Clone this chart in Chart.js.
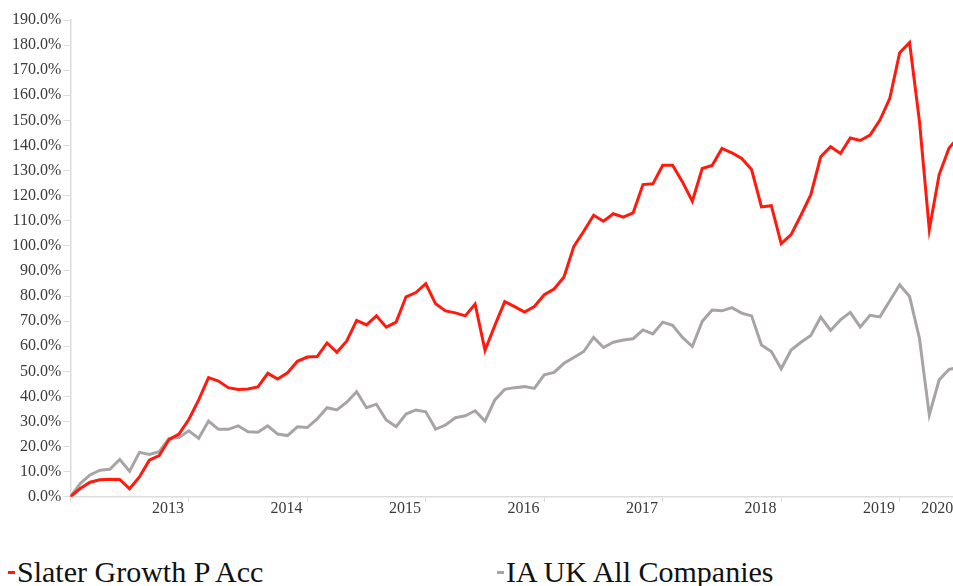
<!DOCTYPE html>
<html>
<head>
<meta charset="utf-8">
<script src="https://cdn.jsdelivr.net/npm/chart.js@4"></script>
<style>
  body { margin: 0; background: #fff; width: 953px; height: 586px; overflow: hidden; position: relative; font-family: 'Liberation Serif', serif; }
  #wrap { position: absolute; left: 0; top: 0; width: 953px; height: 515px; }
  #legend { position: absolute; left: 0; top: 557px; width: 953px; font-size: 30px; line-height: 1; color: #111; white-space: nowrap; }
  #legend .item { position: absolute; top: 0; padding-left: 9px; }
  #legend .item i { position: absolute; left: 0; top: 14px; width: 7px; height: 3px; }
</style>
</head>
<body>
<div id="wrap"><canvas id="perfChart"></canvas></div>
<div id="legend"></div>
<script>
// year labels on the x axis (one tick at the start of each year, monthly data from index 0)
const years = ['2013', '2014', '2015', '2016', '2017', '2018', '2019', '2020'];

// cumulative performance, % (monthly)
const slaterGrowth = [
  0, 3.3, 5.8, 6.8, 7.0, 6.9, 3.2, 7.9, 14.6, 16.4, 22.8, 25.0,
  30.8, 38.6, 47.5, 46.1, 43.5, 42.8, 43.0, 43.8, 49.2, 46.9, 49.4, 54.0,
  55.7, 55.9, 61.3, 57.6, 62.1, 70.3, 68.5, 72.1, 67.6, 69.6, 79.7, 81.4,
  84.9, 76.9, 74.1, 73.3, 72.1, 76.8, 58.4, 68.3, 77.8, 75.8, 73.6, 75.8,
  80.5, 82.8, 87.6, 99.8, 105.8, 112.2, 109.8, 112.8, 111.4, 113.1, 124.4, 124.7,
  132.1, 132.1, 125.5, 117.8, 130.8, 132.0, 138.8, 137.1, 134.8, 130.4, 115.5, 116.0,
  100.9, 104.5, 112.2, 120.4, 135.5, 139.5, 136.8, 143.0, 142.0, 144.1, 150.1, 158.8,
  177.0, 181.0, 149.7, 106.5, 128.4, 139.0, 143.5
];
const iaUkAll = [
  0, 5.3, 8.7, 10.6, 11.0, 14.9, 10.2, 17.7, 16.9, 18.0, 23.3, 23.6,
  26.3, 23.3, 30.2, 26.9, 26.9, 28.3, 25.9, 25.7, 28.3, 25.0, 24.4, 27.9,
  27.6, 31.0, 35.5, 34.6, 37.7, 41.9, 35.5, 36.9, 30.6, 27.9, 33.0, 34.6,
  33.9, 27.0, 28.6, 31.5, 32.3, 34.3, 30.2, 38.6, 42.8, 43.5, 43.9, 43.2,
  48.6, 49.6, 53.2, 55.5, 57.9, 63.5, 59.5, 61.6, 62.5, 63.0, 66.5, 64.9,
  69.6, 68.3, 63.5, 59.9, 69.9, 74.4, 74.1, 75.4, 73.2, 72.1, 60.5, 57.9,
  51.0, 58.5, 61.6, 64.3, 71.6, 66.3, 70.5, 73.5, 67.7, 72.3, 71.7, 78.1,
  84.5, 79.8, 63.2, 32.6, 46.6, 50.8, 51.5
];

const seriesNames = ['Slater Growth P Acc', 'IA UK All Companies'];
const seriesColors = ['#ff1a0d', '#a9a4a4'];

const xMax = 89.4;
const axisGrey = '#dcdcdc';
const tickText = '#3a3a3a';
const serif = "'Liberation Serif', 'Times New Roman', serif";

const toPoints = arr => arr.map((v, i) => ({ x: i, y: v }));

const ctx = document.getElementById('perfChart').getContext('2d');
new Chart(ctx, {
  type: 'line',
  data: {
    datasets: [
      { label: seriesNames[0], data: toPoints(slaterGrowth), borderColor: seriesColors[0], backgroundColor: seriesColors[0], borderWidth: 3, pointRadius: 0, tension: 0 },
      { label: seriesNames[1], data: toPoints(iaUkAll), borderColor: seriesColors[1], backgroundColor: seriesColors[1], borderWidth: 3, pointRadius: 0, tension: 0 }
    ]
  },
  options: {
    responsive: true,
    maintainAspectRatio: false,
    animation: false,
    layout: { padding: { left: 10, top: 20, right: 0, bottom: 0 } },
    plugins: { legend: { display: false }, tooltip: { enabled: false } },
    scales: {
      x: {
        type: 'linear', position: 'bottom', min: 0, max: xMax,
        afterBuildTicks: axis => {
          axis.ticks = [0].concat(years.map((y, i) => (i + 1) * 12)).filter(v => v <= xMax).map(v => ({ value: v }));
        },
        ticks: { display: false },
        grid: { drawOnChartArea: false, drawTicks: true, tickLength: 5, color: axisGrey },
        border: { color: axisGrey, width: 1.5 }
      },
      x2: {
        type: 'linear', position: 'bottom', weight: 1, min: 0, max: xMax,
        afterBuildTicks: axis => {
          axis.ticks = years.map((y, i) => ({ value: Math.min((i + 1) * 12 - 2.1, xMax - 1.6) }));
        },
        ticks: {
          autoSkip: false, maxRotation: 0, padding: -3, color: tickText,
          font: { family: serif, size: 16 },
          callback: (v, i) => years[i]
        },
        grid: { display: false, drawTicks: false },
        border: { display: false }
      },
      y: {
        min: 0, max: 190,
        ticks: {
          stepSize: 10, padding: 2, color: tickText,
          font: { family: serif, size: 16 },
          callback: v => v.toFixed(1) + '%'
        },
        grid: { drawOnChartArea: false, tickLength: 7, color: axisGrey },
        border: { color: axisGrey, width: 1.5 }
      }
    }
  }
});

// legend under the chart
const legendBox = document.getElementById('legend');
const legendLefts = [8, 497];
seriesNames.forEach((name, i) => {
  const item = document.createElement('div');
  item.className = 'item';
  item.style.left = legendLefts[i] + 'px';
  item.innerHTML = '<i style="background:' + seriesColors[i] + '"></i>' + name;
  legendBox.appendChild(item);
});
</script>
</body>
</html>
